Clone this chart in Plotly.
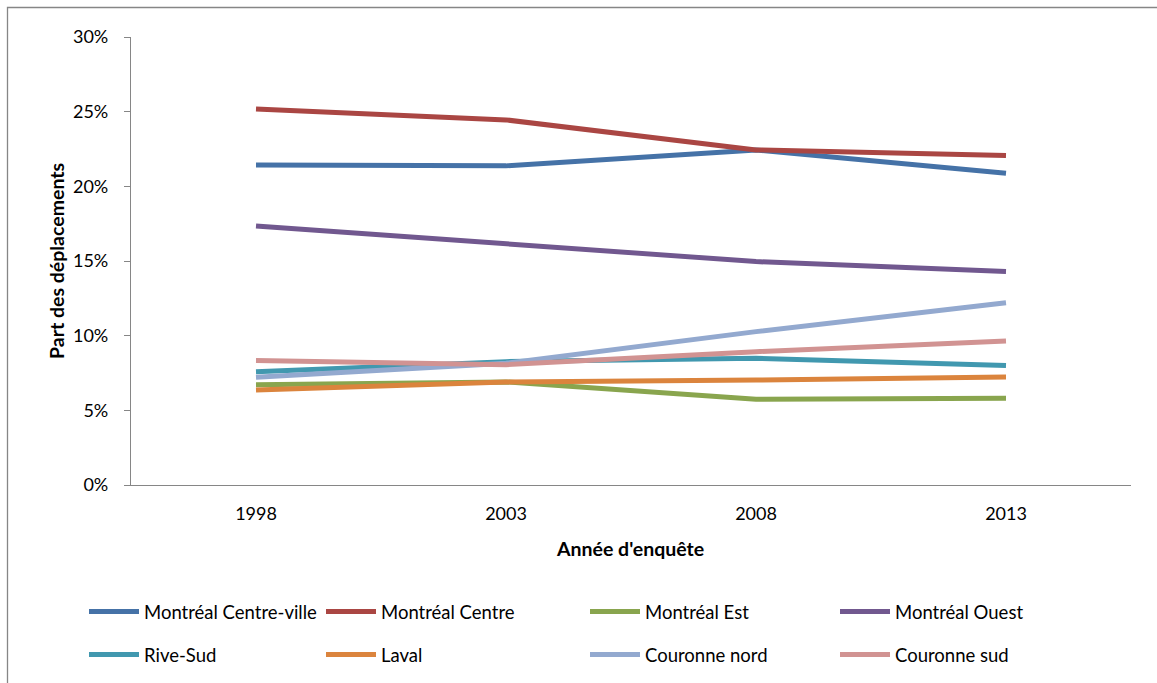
import plotly.graph_objects as go

years = ["1998", "2003", "2008", "2013"]
series_names = ["Montréal Centre-ville", "Montréal Centre", "Montréal Est", "Montréal Ouest",
                "Rive-Sud", "Laval", "Couronne nord", "Couronne sud"]
centre_ville = [0.2143, 0.2137, 0.2244, 0.2087]
centre = [0.2518, 0.2445, 0.2244, 0.2206]
est = [0.0672, 0.0690, 0.0574, 0.0581]
ouest = [0.1735, 0.1619, 0.1496, 0.1429]
rive_sud = [0.0759, 0.0826, 0.0848, 0.0800]
laval = [0.0636, 0.0690, 0.0703, 0.0723]
couronne_nord = [0.0721, 0.0815, 0.1027, 0.1221]
couronne_sud = [0.0833, 0.0806, 0.0893, 0.0964]
values = [centre_ville, centre, est, ouest, rive_sud, laval, couronne_nord, couronne_sud]
colors = ["#4572A7", "#AA4643", "#89A54E", "#71588F", "#4198AF", "#DB843D", "#93A9CF", "#D19392"]
y_ticks = [0, 0.05, 0.10, 0.15, 0.20, 0.25, 0.30]

W, H = 1157, 683
L, R, T, B = 131, 1131, 37, 485

def px(x):
    return (x - L) / (R - L)

def py(y):
    return (B - y) / (B - T)

FONT = "Lato, 'Open Sans', sans-serif"

# legend positions (pixel), columns / rows
leg_x = [84, 321, 585, 835, 84, 321, 585, 835]
leg_y = [612, 612, 612, 612, 655, 655, 655, 655]

fig = go.Figure()
for i, (name, vals, c) in enumerate(zip(series_names, values, colors)):
    lname = "legend" if i == 0 else f"legend{i+1}"
    fig.add_trace(go.Scatter(x=years, y=vals, name=name, mode="lines",
                             line=dict(color=c, width=5),
                             legend=lname))

legends = {}
for i in range(8):
    lname = "legend" if i == 0 else f"legend{i+1}"
    legends[lname] = dict(x=px(leg_x[i]), y=py(leg_y[i]), xanchor="left", yanchor="middle",
                          orientation="h", bgcolor="rgba(0,0,0,0)",
                          font=dict(family=FONT, size=18.5, color="#000000"),
                          itemwidth=50)

fig.update_layout(
    width=W, height=H,
    margin=dict(l=L, r=W - R, t=T, b=H - B, autoexpand=False),
    paper_bgcolor="white", plot_bgcolor="white",
    showlegend=True,
    font=dict(family=FONT, size=18, color="#000000"),
    xaxis=dict(type="category", range=[-0.5, 3.5], showgrid=False, zeroline=False,
               showline=True, linecolor="#868686", linewidth=1.3, ticks="",
               ticklabelstandoff=12, tickfont=dict(size=18)),
    yaxis=dict(range=[0, 0.30], tickvals=y_ticks, tickformat=".0%", showgrid=False,
               zeroline=False, showline=True, linecolor="#868686", linewidth=1.3,
               ticks="outside", ticklen=6, tickcolor="#868686", tickwidth=1.3,
               ticklabelstandoff=12, tickfont=dict(size=18)),
    annotations=[
        dict(text="<b>Année d'enquête</b>", x=px(630), y=py(548), xref="paper", yref="paper",
             showarrow=False, font=dict(family=FONT, size=19.5), xanchor="center", yanchor="middle"),
        dict(text="<b>Part des déplacements</b>", x=px(56), y=py(261), xref="paper", yref="paper",
             showarrow=False, textangle=-90, font=dict(family=FONT, size=19.5),
             xanchor="center", yanchor="middle"),
    ],
    shapes=[
        dict(type="rect", xref="paper", yref="paper", x0=px(7.5), x1=px(1300), y0=py(7.5), y1=py(800),
             line=dict(color="#868686", width=1.3), layer="below"),
    ],
    **legends,
)

fig.write_html("out.html")
